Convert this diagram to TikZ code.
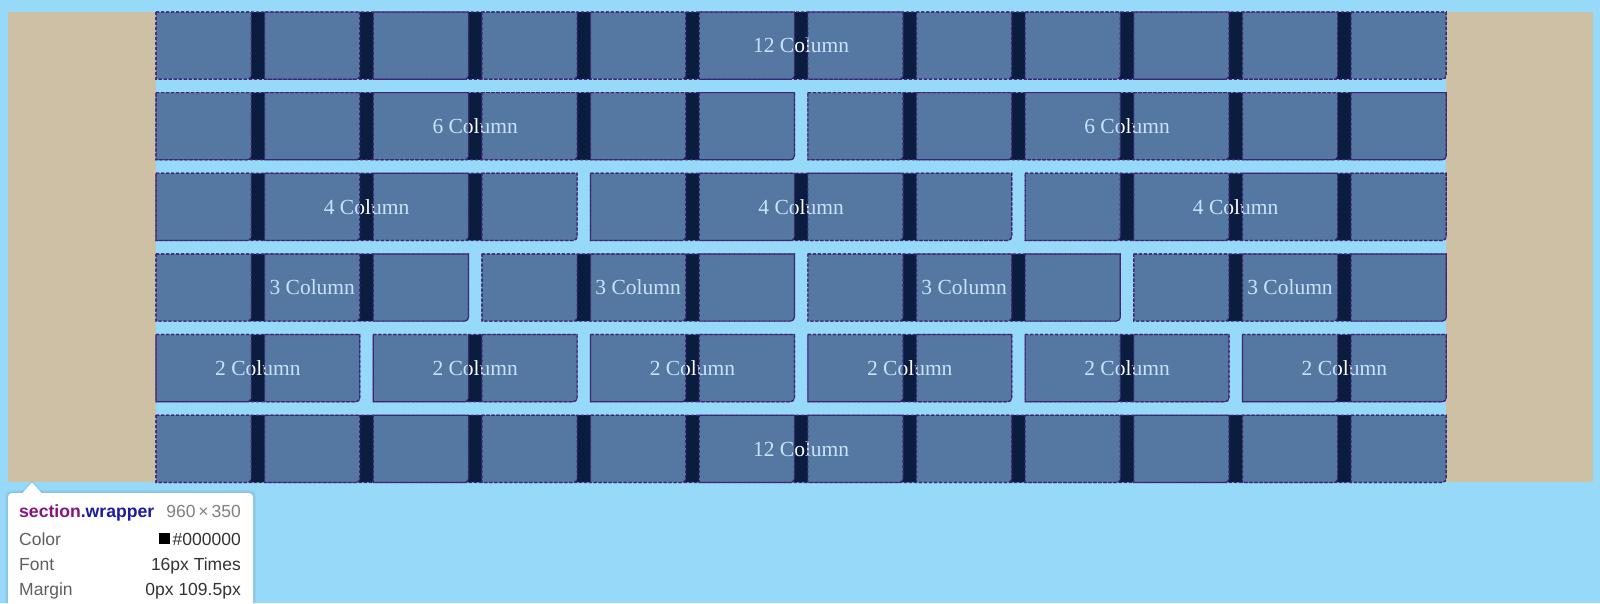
\documentclass[tikz,border=0pt]{standalone}
\usepackage{fontspec}
\setmainfont{Liberation Serif}
\newfontfamily\uisans{Liberation Sans}
\definecolor{pagebg}{RGB}{151,217,249}
\definecolor{margintan}{RGB}{205,192,165}
\definecolor{itemnavy}{RGB}{11,29,63}
\definecolor{coltint}{RGB}{150,203,252}
\definecolor{dashpurple}{RGB}{68,34,118}
\definecolor{tipsel}{RGB}{136,18,128}
\definecolor{tipcls}{RGB}{26,26,166}
\definecolor{tipgray}{RGB}{128,128,128}
\definecolor{tiplabel}{RGB}{95,95,95}
\definecolor{tipvalue}{RGB}{51,51,51}
\tikzset{
  collabel/.style={text=white, inner sep=0pt, font=\fontsize{21.5}{25}\selectfont},
  cellbox/.style={fill=coltint, fill opacity=0.527, draw=dashpurple, draw opacity=1, line width=1.2pt, dash pattern=on 3pt off 2pt},
  itemedge/.style={draw=dashpurple, line width=1.2pt, dash pattern=on 3pt off 2pt},
  tiptext/.style={inner sep=0pt, font=\uisans\fontsize{17.5}{20}\selectfont},
  swatch/.style={fill=black, inner sep=0pt, minimum size=11pt},
}
\begin{document}
\begin{tikzpicture}[x=1pt,y=1pt]
\useasboundingbox (0,0) rectangle (1600,-603);
\fill[pagebg] (0,0) rectangle (1600,-603);
% margins
\fill[margintan] (8,-12) rectangle (156,-482);
\fill[margintan] (1446.2,-12) rectangle (1593,-482);
% items (dark) and labels
\foreach \rw/\ns/\lab in {0/12/12 Column, 1/6/6 Column, 2/4/4 Column, 3/3/3 Column, 4/2/2 Column, 5/12/12 Column}{
  \pgfmathsetmacro\ytop{-(12+\rw*80.64)}
  \pgfmathtruncatemacro\nitems{12/\ns}
  \pgfmathsetmacro\itemw{\ns*95.2+(\ns-1)*13.44}
  \foreach \itm in {1,...,\nitems}{
    \pgfmathsetmacro\xl{156+(\itm-1)*\ns*108.64}
    \fill[itemnavy] (\xl,\ytop) -- ++(\itemw,0) -- ++(0,-63.2) arc[start angle=0,end angle=-90,radius=4pt] -- ++({4-\itemw},0) -- cycle;
    \node[collabel] (lab-\rw-\itm) at ({\xl+\itemw/2},{\ytop-33.6}) {\lab};
  }
}
% column tracks overlay
\foreach \rw in {0,...,5}{
  \pgfmathsetmacro\ytop{-(12+\rw*80.64)}
  \foreach \cl in {0,...,11}{
    \pgfmathsetmacro\xl{156+\cl*108.64}
    \path[cellbox] (\xl,\ytop) -- ++(95.2,0) -- ++(0,-63.2) arc[start angle=0,end angle=-90,radius=4pt] -- ++(-91.2,0) -- cycle;
  }
}
% item outlines
\foreach \rw/\ns in {0/12, 1/6, 2/4, 3/3, 4/2, 5/12}{
  \pgfmathsetmacro\ytop{-(12+\rw*80.64)}
  \pgfmathtruncatemacro\nitems{12/\ns}
  \pgfmathsetmacro\itemw{\ns*95.2+(\ns-1)*13.44}
  \foreach \itm in {1,...,\nitems}{
    \pgfmathsetmacro\xl{156+(\itm-1)*\ns*108.64}
    \path[itemedge] (\xl,\ytop) -- ++(\itemw,0) -- ++(0,-63.2) arc[start angle=0,end angle=-90,radius=4pt] -- ++({4-\itemw},0) -- cycle;
  }
}
% tooltip
\fill[black, opacity=0.04, rounded corners=6pt] (5,-490) rectangle (256,-630);
\fill[black, opacity=0.06, rounded corners=5pt] (6.5,-491.5) rectangle (254.5,-630);
\fill[black, opacity=0.05] (20,-493) -- (32,-480.5) -- (44,-493) -- cycle;
\fill[white, rounded corners=4pt] (8,-493) rectangle (253,-630);
\fill[white] (22,-493.5) -- (32,-482.5) -- (42,-493.5) -- cycle;
\node[tiptext, font=\uisans\bfseries\fontsize{17.6}{20}\selectfont, anchor=base west] (tiptitle) at (19,-517) {\textcolor{tipsel}{section}\textcolor{tipcls}{.wrapper}};
\node[tiptext, text=tipgray, anchor=base east] (tipsize) at (241,-517) {960\,×\,350};
\node[tiptext, text=tiplabel, anchor=base west] (tipcolork) at (19,-545) {Color};
\node[tiptext, text=tiplabel, anchor=base west] (tipfontk) at (19,-570) {Font};
\node[tiptext, text=tiplabel, anchor=base west] (tipmargk) at (19,-595) {Margin};
\node[tiptext, text=tipvalue, anchor=base east] (tipcolorv) at (241,-545) {\#000000};
\node[tiptext, text=tipvalue, anchor=base east] (tipfontv) at (241,-570) {16px Times};
\node[tiptext, text=tipvalue, anchor=base east] (tipmargv) at (241,-595) {0px 109.5px};
\node[swatch, anchor=south east] (tipswatch) at ([xshift=-2pt,yshift=1pt]tipcolorv.base west) {};
\end{tikzpicture}
\end{document}
